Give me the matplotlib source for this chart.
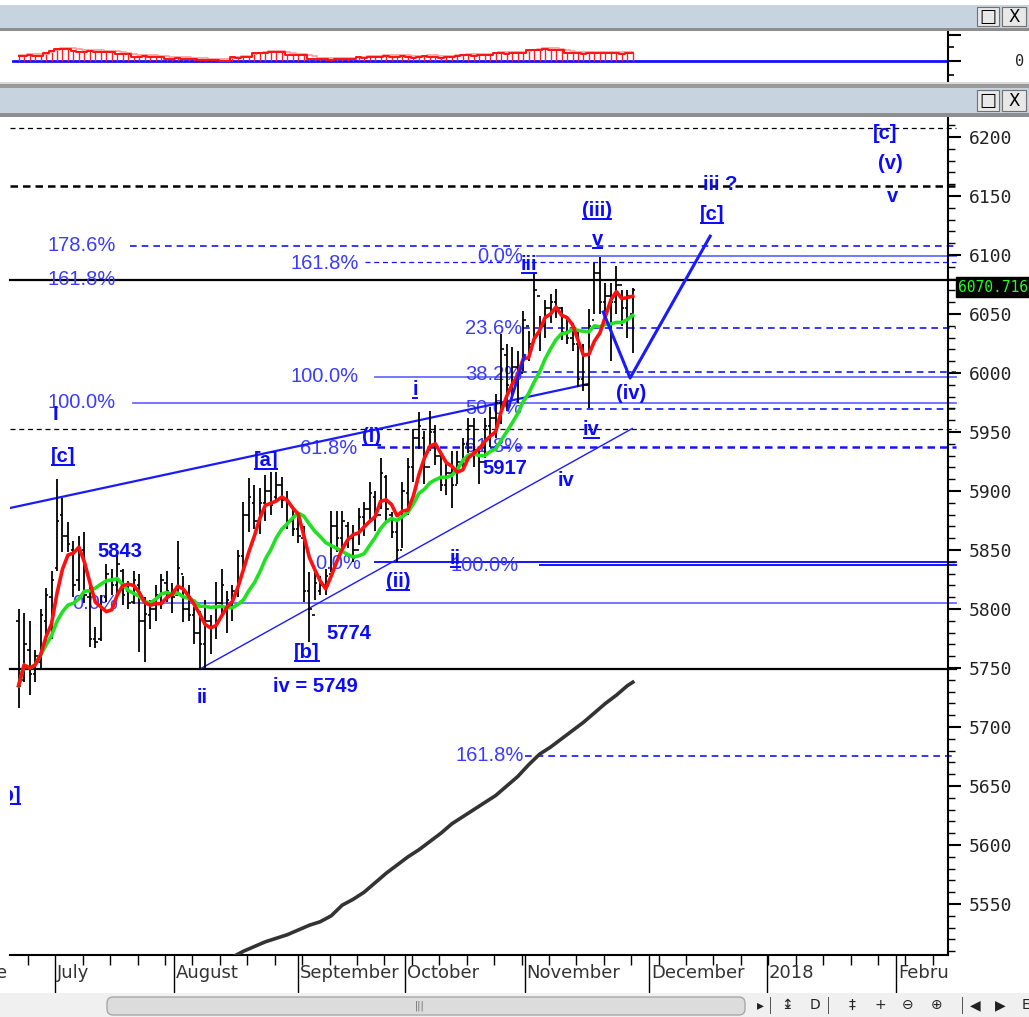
import matplotlib
matplotlib.use("Agg")
import matplotlib.pyplot as plt
import numpy as np
import pandas as pd
from matplotlib.patches import Rectangle, FancyBboxPatch
from matplotlib.lines import Line2D
import matplotlib.transforms as mtrans

# ---------------- data ----------------
highs = [5800, 5797, 5790, 5765, 5800, 5818, 5832, 5910, 5894, 5874,
         5858, 5862, 5865, 5820, 5785, 5812, 5838, 5834, 5846, 5834,
         5824, 5832, 5830, 5810, 5808, 5820, 5830, 5832, 5822, 5858,
         5828, 5820, 5802, 5798, 5808, 5795, 5823, 5834, 5815, 5820,
         5850, 5891, 5911, 5905, 5903, 5914, 5916, 5916, 5912, 5900,
         5885, 5880, 5870, 5831, 5831, 5828, 5834, 5883, 5883, 5883,
         5874, 5871, 5886, 5891, 5908, 5900, 5928, 5914, 5882, 5875,
         5908, 5928, 5953, 5967, 5951, 5968, 5956, 5934, 5925, 5934,
         5934, 5945, 5962, 5962, 5937, 5962, 5971, 5982, 6033, 6025,
         6022, 6019, 6053, 6036, 6085, 6048, 6062, 6067, 6071, 6056,
         6048, 6042, 6036, 6025, 6054, 6093, 6098, 6076, 6076, 6091,
         6070, 6070, 6072]
lows = [5716, 5738, 5727, 5738, 5748, 5770, 5775, 5832, 5848, 5848,
        5810, 5815, 5805, 5768, 5767, 5773, 5806, 5812, 5812, 5803,
        5800, 5804, 5764, 5755, 5783, 5790, 5800, 5806, 5797, 5812,
        5789, 5790, 5770, 5748, 5750, 5762, 5775, 5795, 5780, 5790,
        5810, 5834, 5865, 5868, 5864, 5875, 5880, 5891, 5886, 5868,
        5862, 5856, 5806, 5772, 5808, 5812, 5812, 5831, 5848, 5852,
        5852, 5840, 5854, 5862, 5874, 5866, 5885, 5874, 5860, 5840,
        5852, 5880, 5908, 5936, 5906, 5934, 5922, 5900, 5897, 5886,
        5906, 5917, 5932, 5920, 5906, 5928, 5937, 5945, 5957, 5968,
        5980, 5975, 6002, 6010, 6030, 6019, 6030, 6042, 6047, 6028,
        6025, 6019, 5988, 5985, 5970, 6050, 6050, 6045, 6010, 6050,
        6040, 6030, 6017]
opens = [5790, 5740, 5765, 5745, 5755, 5790, 5810, 5835, 5880, 5862,
         5850, 5825, 5850, 5810, 5775, 5775, 5810, 5825, 5820, 5832,
         5815, 5806, 5820, 5790, 5795, 5800, 5810, 5822, 5812, 5812,
         5830, 5800, 5795, 5780, 5770, 5790, 5785, 5805, 5800, 5805,
         5815, 5845, 5880, 5890, 5875, 5890, 5900, 5895, 5905, 5892,
         5875, 5868, 5860, 5815, 5795, 5815, 5820, 5830, 5870, 5860,
         5870, 5860, 5850, 5878, 5885, 5895, 5880, 5912, 5880, 5865,
         5850, 5898, 5920, 5945, 5945, 5920, 5950, 5930, 5905, 5915,
         5905, 5925, 5940, 5955, 5935, 5925, 5955, 5962, 5975, 6015,
         5990, 6005, 6000, 6040, 6025, 6065, 6040, 6055, 6060, 6055,
         6035, 6030, 6025, 5995, 5990, 6045, 6085, 6060, 6065, 6060,
         6075, 6055, 6050]
closes = [5735, 5770, 5745, 5760, 5795, 5812, 5825, 5875, 5862, 5855,
          5820, 5850, 5812, 5775, 5772, 5800, 5830, 5820, 5838, 5812,
          5805, 5825, 5790, 5796, 5800, 5812, 5825, 5815, 5810, 5835,
          5800, 5795, 5780, 5770, 5790, 5785, 5805, 5820, 5808, 5815,
          5845, 5880, 5895, 5875, 5890, 5900, 5888, 5905, 5892, 5875,
          5868, 5862, 5815, 5800, 5822, 5820, 5828, 5870, 5860, 5875,
          5860, 5850, 5878, 5885, 5898, 5880, 5915, 5885, 5865, 5850,
          5900, 5920, 5945, 5955, 5920, 5950, 5930, 5905, 5915, 5905,
          5925, 5940, 5955, 5935, 5925, 5955, 5962, 5975, 6020, 5990,
          6005, 6000, 6045, 6025, 6070, 6040, 6055, 6060, 6055, 6035,
          6030, 6025, 5995, 5990, 6040, 6085, 6060, 6065, 6060, 6075,
          6055, 6065, 6070.716]
last_price = "6070.716"

# oscillator (top panel)
osc = [5, 5, 6, 5, 5, 8, 10, 12, 12, 12,
       10, 9, 9, 10, 9, 9, 9, 9, 7, 7,
       7, 4, 4, 5, 4, 4, 4, 2, 2, 3, 2, 2, 2,
       1, 1, 1, 1, 0.3, 0.3,
       4, 3, 4, 4, 8, 8, 8, 9, 9, 9,
       6, 6, 6, 6, 2, 2, 2, 2, 1, 2, 2, 2, 2,
       4, 3, 4, 4, 4, 5, 4, 4, 5, 4, 3, 4, 5, 4, 4, 3, 4, 4, 5,
       6, 6, 5, 6, 6, 6, 8, 8, 7, 8, 8, 8,
       11, 11, 11, 12, 11, 11, 11,
       8, 8, 8, 7, 8, 8, 8, 8, 8, 8, 7, 8, 8]

# black cumulative-type line (lower part of chart)
cum_idx = [40, 42, 44, 46, 48, 50, 52, 54, 56, 58, 60, 62, 64, 66, 68, 70, 72, 74, 76,
           78, 80, 82, 84, 86, 88, 90, 92, 94, 96, 98, 100, 102, 104, 106, 108, 110, 112, 113]
cum_val = [5505, 5510, 5514, 5518, 5521, 5524, 5528, 5532, 5535, 5540, 5549, 5554, 5560,
           5568, 5576, 5583, 5590, 5596, 5603, 5610, 5618, 5624, 5630, 5636, 5642, 5650,
           5658, 5668, 5677, 5683, 5690, 5697, 5704, 5712, 5720, 5727, 5735, 5738]

month_pos = [7.7, 29.4, 52.0, 71.5, 93.3, 116.0, 137.4, 161.0]
month_lbl = ["July", "August", "September", "October", "November", "December", "2018", "Febru"]

# fibonacci / level lines: (price, start index, style)
fib_levels = [
    (6207.6, -1, "kdash_thin"), (6158.5, -1, "kdash_bold"), (6107.6, 21.3, "bdash"),
    (6099.0, 95.5, "bsolid"), (6094.0, 64.2, "bdash_thin"), (6078.8, -1, "ksolid"),
    (6038.0, 93.0, "bdash"), (6000.5, 92.4, "bdash"), (5996.8, 66.0, "bsolid"),
    (5974.6, 21.9, "bsolid"), (5969.5, 96.0, "bdash"), (5952.5, -1, "kdash_thin"),
    (5937.0, 66.4, "bdash_bold"), (5839.8, 66.0, "bsolid_dark"), (5837.0, 96.0, "bsolid_dark"),
    (5805.0, 21.9, "bsolid"), (5749.0, -1, "ksolid"), (5675.5, 93.3, "bdash"),
]
fib_labels = [
    ("178.6%", 6.2, 6108), ("161.8%", 6.2, 6079), ("100.0%", 6.2, 5975), ("0.0%", 10.7, 5805),
    ("161.8%", 50.5, 6093), ("100.0%", 50.5, 5997), ("61.8%", 52.3, 5936), ("0.0%", 55.0, 5839),
    ("0.0%", 84.6, 6099), ("23.6%", 82.4, 6038), ("38.2%", 82.4, 5999), ("50.0%", 82.4, 5970),
    ("61.8%", 82.4, 5938), ("100.0%", 79.7, 5837), ("161.8%", 80.6, 5676),
]
# wave labels: (text, index, price, underlined)
wave_labels = [
    ("[c]", 9.1, 5929, True), ("I", 7.7, 5965, False), ("5843", 19.5, 5849, False),
    ("[a]", 46.1, 5926, True), ("(i)", 65.4, 5946, True), ("i", 73.3, 5986, True),
    ("[b]", 53.6, 5763, True), ("5774", 61.2, 5779, False), ("iv = 5749", 55.2, 5734, False),
    ("ii", 34.4, 5725, False), ("ii", 80.6, 5843, True), ("(ii)", 70.2, 5823, True),
    ("5917", 89.7, 5919, False), ("iv", 100.8, 5909, False), ("iv", 105.4, 5952, True),
    ("(iv)", 112.7, 5983, False), ("iii", 94.1, 6092, True), ("v", 106.5, 6113, True),
    ("(iii)", 106.5, 6138, True), ("[c]", 127.4, 6134, True), ("iii ?", 128.9, 6160, False),
    ("[c]", 159.0, 6203, False), ("(v)", 159.9, 6178, False), ("v", 160.4, 6150, False),
    ("[b]", -0.9, 5642, True),
]
upper_chan = ([-0.6, 104.8], [5885.6, 5990.7])
lower_chan = ([34.0, 112.9], [5749.0, 5953.0])
wave_path = ([107.6, 112.5, 127.1], [6051.7, 5995.8, 6116.0])
small_seg = ([90.2, 93.3], [5968.6, 6015.0])

# ---------------- figure ----------------
W, H = 1029, 1017
fig = plt.figure(figsize=(W / 100, H / 100), dpi=100)
fig.patch.set_facecolor("white")

def fx(px):
    return px / W

def fy(py):
    return 1 - py / H

def frect(x0, y0, x1, y1, fc, ec="none", lw=0, z=0):
    fig.patches.append(Rectangle((fx(x0), fy(y1)), fx(x1) - fx(x0), fy(y0) - fy(y1),
                                 transform=fig.transFigure, facecolor=fc, edgecolor=ec,
                                 lw=lw, zorder=z))

# window chrome
frect(0, 5, W, 28, "#c8d3e0")
frect(0, 28, W, 31, "#8e8e8e")
frect(0, 82, W, 84, "#d8d8d8")
frect(0, 84, W, 88, "#9a9a9a")
frect(0, 88, W, 113, "#c8d3e0")
frect(0, 113, W, 117, "#8e8e8e")
for (y0, y1) in [(7, 26), (90, 111)]:
    frect(977, y0, 999, y1, "#e8e8e8", ec="#707070", lw=0.8, z=1)
    frect(1002, y0, 1026, y1, "#e8e8e8", ec="#707070", lw=0.8, z=1)
    fig.text(fx(988), fy((y0 + y1) / 2), "\u25a1", ha="center", va="center", fontsize=13,
             color="black", fontweight="bold", zorder=2)
    fig.text(fx(1014), fy((y0 + y1) / 2), "X", ha="center", va="center", fontsize=12,
             color="black", zorder=2)

# bottom scroll bar area
frect(0, 993, W, H, "#f0f0f0")
fig.patches.append(FancyBboxPatch((fx(107), fy(1015)), fx(745) - fx(107), fy(997) - fy(1015),
                                  boxstyle="round,pad=0,rounding_size=0.006",
                                  transform=fig.transFigure, facecolor="#dcdcdc",
                                  edgecolor="#a8a8a8", lw=1, zorder=1))
fig.text(fx(420), fy(1006), "|||", ha="center", va="center", fontsize=7, color="#666666")
icons = [(760, "\u25b8"), (787, "\u21a8"), (815, "D"), (852, "\u2021"), (880, "+"),
         (908, "\u2296"), (937, "\u2295"), (975, "\u25c0"), (1000, "\u25b6"), (1026, "E")]
for xx, ch in icons:
    fig.text(fx(xx), fy(1005), ch, ha="center", va="center", fontsize=10, color="#222222")
for xx in [770, 828, 962]:
    fig.patches.append(Rectangle((fx(xx), fy(1014)), 0.0008, fy(997) - fy(1014),
                                 transform=fig.transFigure, facecolor="#555555"))

# ---------------- main axes ----------------
n = len(closes)
x = np.arange(1, n + 1)
xlim = (-0.57, 170.47)

ax = fig.add_axes([fx(10), fy(955), fx(948) - fx(10), fy(117) - fy(955)])
ax.set_xlim(*xlim)
ax.set_ylim(5506.8, 6217.0)
ax.set_facecolor("white")

styles = {
    "kdash_thin": dict(color="black", lw=0.9, ls=(0, (4, 3))),
    "kdash_bold": dict(color="black", lw=1.8, ls=(0, (3, 2))),
    "ksolid": dict(color="black", lw=1.6, ls="-"),
    "bdash": dict(color="#1414ff", lw=1.2, ls=(0, (4, 3))),
    "bdash_thin": dict(color="#1414ff", lw=0.9, ls=(0, (4, 3))),
    "bdash_bold": dict(color="#1414ff", lw=1.8, ls=(0, (3, 2))),
    "bsolid": dict(color="#6b6bff", lw=1.3, ls="-"),
    "bsolid_dark": dict(color="#1414ff", lw=1.4, ls="-"),
}
for price, start, st in fib_levels:
    s0 = xlim[0] if start < 0 else start
    ax.plot([s0, xlim[1] + 1.5], [price, price], clip_on=False, zorder=1, **styles[st])

for lbl, xi, p in fib_labels:
    ax.text(xi, p, lbl, ha="left", va="center", fontsize=14.5, color="#3b3bff",
            family="Liberation Sans", zorder=2)

# channels and wave lines
ax.plot(*upper_chan, color="#1a1aff", lw=1.6, zorder=3)
ax.plot(*lower_chan, color="#1a1aff", lw=1.0, zorder=3)
ax.plot(*wave_path, color="#1a1aff", lw=2.2, zorder=6)
ax.plot(*small_seg, color="#1a1aff", lw=2.0, zorder=6)

# black lower line
ax.plot(cum_idx, cum_val, color="#333333", lw=2.6, zorder=4)

# OHLC bars
ax.vlines(x, lows, highs, color="black", lw=1.3, zorder=4)
ax.hlines(opens, x - 0.45, x, color="black", lw=1.2, zorder=4)
ax.hlines(closes, x, x + 0.45, color="black", lw=1.2, zorder=4)

# moving averages
cs = pd.Series(closes)
ma_fast = cs.rolling(5, min_periods=1).mean()
ma_slow = cs.rolling(12, min_periods=1).mean()
ax.plot(x, ma_slow, color="#22e022", lw=2.6, zorder=5)
ax.plot(x, ma_fast, color="#ff1010", lw=2.6, zorder=5)

# wave labels
ul = []
for lbl, xi, p, und in wave_labels:
    t = ax.text(xi, p, lbl, ha="center", va="center", fontsize=14.5, fontweight="bold",
                color="#0a0aff", family="Liberation Sans", zorder=7, clip_on=True)
    if und:
        ul.append(t)

# axes styling
for sp in ["left", "top"]:
    ax.spines[sp].set_visible(False)
ax.spines["right"].set_linewidth(1.5)
ax.spines["bottom"].set_linewidth(1.5)
ax.yaxis.tick_right()
ax.set_yticks(np.arange(5550, 6201, 50))
ax.set_yticks(np.arange(5510, 6211, 10), minor=True)
ax.tick_params(axis="y", which="major", length=9, width=1.5, pad=6, labelsize=13,
               labelcolor="#222222")
ax.tick_params(axis="y", which="minor", length=5, width=1.0)
for lab in ax.get_yticklabels():
    lab.set_family("DejaVu Sans Mono")

ax.set_xticks(month_pos)
ax.set_xticklabels([])
ax.set_xticks(np.arange(2.7, 170, 5), minor=True)
ax.tick_params(axis="x", which="major", length=36, width=1.0, direction="out")
ax.tick_params(axis="x", which="minor", length=7, width=1.0, direction="out")
bl = mtrans.blended_transform_factory(ax.transData, ax.transAxes)
for mp, ml in zip(month_pos, month_lbl):
    ax.text(mp + 0.35, -0.011, ml, transform=bl, ha="left", va="top", fontsize=13,
            color="#333333", family="DejaVu Sans")
ax.text(-0.57 - 0.4, -0.011, "June", transform=bl, ha="right", va="top", fontsize=13,
        color="#333333", family="DejaVu Sans")

# last price tag
fig.text(fx(958), fy(287), last_price, ha="left", va="center", fontsize=10.5,
         color="#20ff20", family="DejaVu Sans Mono",
         bbox=dict(boxstyle="square,pad=0.15", facecolor="black", edgecolor="black"))

# ---------------- top indicator panel ----------------
ax2 = fig.add_axes([fx(10), fy(82), fx(948) - fx(10), fy(31) - fy(82)])
ax2.set_xlim(*xlim)
ax2.set_ylim(-21, 30)
ax2.plot([xlim[0] + 0.5, xlim[1]], [0, 0], color="#1010ff", lw=2.0, zorder=2)
ax2.vlines(x, 0, osc, color="#ff2020", lw=1.0, zorder=3)
ax2.step(x, osc, where="mid", color="#ff1010", lw=1.4, zorder=4)
sig = pd.Series(osc).rolling(3, min_periods=1).mean() + 1.2
ax2.step(x, sig, where="mid", color="#ff9a9a", lw=1.2, zorder=3)
for sp in ["left", "top", "bottom"]:
    ax2.spines[sp].set_visible(False)
ax2.spines["right"].set_linewidth(1.5)
ax2.yaxis.tick_right()
ax2.set_yticks([26, 0])
ax2.set_yticks([14, -14], minor=True)
ax2.set_yticklabels([])
ax2.tick_params(axis="y", which="major", length=9, width=1.5)
ax2.tick_params(axis="y", which="minor", length=4, width=1.2)
ax2.set_xticks([])
fig.text(fx(1020), fy(61), "0", ha="center", va="center", fontsize=11, color="#222222",
         family="DejaVu Sans Mono")

# underlines for wave labels
fig.canvas.draw()
r = fig.canvas.get_renderer()
inv = fig.transFigure.inverted()
clipbb = ax.get_window_extent(r)
for t in ul:
    bb = t.get_window_extent(r)
    x0, x1 = max(bb.x0, clipbb.x0), bb.x1
    if x1 <= x0:
        continue
    (a0, b0) = inv.transform((x0 + 1, bb.y0 + 1))
    (a1, _) = inv.transform((x1 - 1, bb.y0 + 1))
    fig.add_artist(Line2D([a0, a1], [b0, b0], transform=fig.transFigure, color="#0a0aff",
                          lw=1.4, zorder=8))

fig.savefig("out.png", dpi=100)
